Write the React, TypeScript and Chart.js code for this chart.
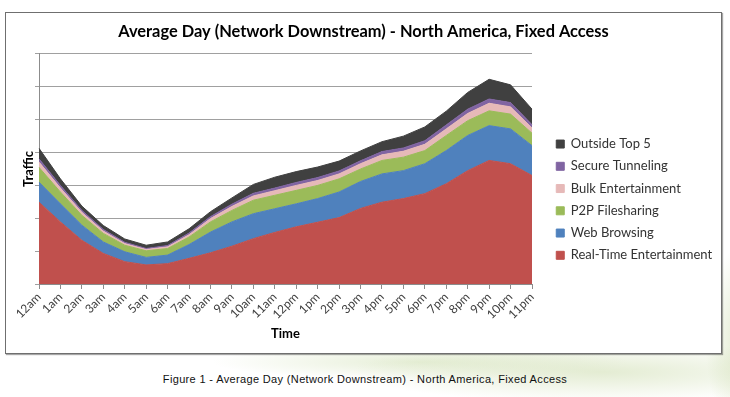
import React, { useEffect, useRef } from 'react';
import { Chart, registerables } from 'chart.js';

Chart.register(...registerables);

const HOURS = ['12am', '1am', '2am', '3am', '4am', '5am', '6am', '7am', '8am', '9am', '10am', '11am',
  '12pm', '1pm', '2pm', '3pm', '4pm', '5pm', '6pm', '7pm', '8pm', '9pm', '10pm', '11pm'];

const REAL_TIME = [2.49, 1.89, 1.33, 0.93, 0.68, 0.58, 0.62, 0.78, 0.95, 1.15, 1.38, 1.57, 1.74, 1.88, 2.02, 2.3, 2.49, 2.6, 2.75, 3.05, 3.45, 3.76, 3.66, 3.3];
const WEB = [0.61, 0.55, 0.46, 0.35, 0.3, 0.23, 0.26, 0.42, 0.63, 0.74, 0.76, 0.72, 0.7, 0.72, 0.78, 0.82, 0.86, 0.85, 0.91, 1.01, 1.07, 1.06, 1.06, 0.91];
const P2P = [0.45, 0.36, 0.3, 0.26, 0.2, 0.2, 0.2, 0.23, 0.31, 0.35, 0.41, 0.41, 0.41, 0.4, 0.4, 0.38, 0.41, 0.41, 0.4, 0.46, 0.45, 0.45, 0.45, 0.38];
const BULK = [0.16, 0.12, 0.09, 0.07, 0.05, 0.04, 0.05, 0.07, 0.1, 0.12, 0.13, 0.14, 0.15, 0.15, 0.15, 0.16, 0.17, 0.18, 0.19, 0.2, 0.22, 0.23, 0.22, 0.16];
const SECURE = [0.1, 0.08, 0.06, 0.05, 0.04, 0.03, 0.04, 0.05, 0.06, 0.07, 0.08, 0.08, 0.09, 0.09, 0.09, 0.09, 0.1, 0.1, 0.11, 0.12, 0.13, 0.13, 0.13, 0.1];
const OUTSIDE = [0.32, 0.2, 0.13, 0.12, 0.1, 0.1, 0.11, 0.13, 0.15, 0.19, 0.27, 0.33, 0.33, 0.32, 0.3, 0.3, 0.3, 0.36, 0.42, 0.42, 0.51, 0.6, 0.54, 0.47];

const SERIES_NAMES = ['Real-Time Entertainment', 'Web Browsing', 'P2P Filesharing', 'Bulk Entertainment', 'Secure Tunneling', 'Outside Top 5'];
const SERIES_VALUES = [REAL_TIME, WEB, P2P, BULK, SECURE, OUTSIDE];
const SERIES_COLORS = ['#C0504D', '#4F81BD', '#9BBB59', '#E6B9B8', '#8064A2', '#404040'];

const TITLE = 'Average Day (Network Downstream) - North America, Fixed Access';
const CAPTION = 'Figure 1 - Average Day (Network Downstream) - North America, Fixed Access';
const Y_TITLE = 'Traffic';
const X_TITLE = 'Time';

const CANVAS_W = 715;
const CANVAS_H = 340;
const PLOT_LEFT = 33;
const PLOT_RIGHT = 526;
const LEGEND_TOP = 115.3;
const LEGEND_LEFT = 541;

export default function App() {
  const ref = useRef<HTMLCanvasElement>(null);

  useEffect(() => {
    if (!ref.current) return;
    const legendPlace = {
      id: 'legendPlace',
      afterLayout(chart: any) {
        const lg = chart.legend;
        if (lg) {
          const w = lg.width;
          lg.top = LEGEND_TOP;
          lg.left = LEGEND_LEFT;
          lg.right = LEGEND_LEFT + w;
        }
      },
    };
    const chart = new Chart(ref.current, {
      type: 'line',
      data: {
        labels: HOURS,
        datasets: SERIES_NAMES.map((name, i) => ({
          label: name,
          data: SERIES_VALUES[i],
          backgroundColor: SERIES_COLORS[i],
          borderColor: SERIES_COLORS[i],
          borderWidth: 1,
          pointRadius: 0,
          tension: 0,
          fill: i === 0 ? 'origin' : '-1',
        })),
      },
      options: {
        animation: false,
        responsive: false,
        layout: { padding: { left: 0, right: 0, top: 0, bottom: 11 } },
        plugins: {
          title: {
            display: true,
            text: TITLE,
            color: '#000',
            font: { family: 'Lato', size: 16.4, weight: 'bold' },
            padding: { top: 9.2, bottom: 12.1 },
          },
          legend: {
            position: 'right',
            align: 'start',
            reverse: true,
            labels: {
              boxWidth: 8,
              boxHeight: 8,
              padding: 9.25,
              color: '#333',
              font: { family: 'Lato', size: 13 },
            },
          },
          tooltip: { enabled: false },
        },
        scales: {
          x: {
            type: 'category',
            offset: false,
            grid: { display: true, drawOnChartArea: false, drawTicks: true, tickLength: 5, color: '#8c8c8c' },
            border: { display: true, color: '#8c8c8c' },
            ticks: {
              autoSkip: false,
              maxRotation: 45,
              minRotation: 45,
              padding: 1,
              color: '#404040',
              font: { family: 'Lato', size: 12 },
            },
            title: {
              display: true,
              text: X_TITLE,
              color: '#000',
              font: { family: 'Lato', size: 13, weight: 'bold' },
              padding: { top: 0, bottom: 0 },
            },
            afterFit: (s: any) => {
              s.height = 58;
              s.paddingRight = CANVAS_W - PLOT_RIGHT;
            },
          },
          y: {
            stacked: true,
            min: 0,
            max: 7,
            ticks: { display: false, stepSize: 1 },
            grid: { color: '#a0a0a0', tickLength: 4, drawTicks: true },
            border: { display: true, color: '#8c8c8c' },
            title: {
              display: true,
              text: Y_TITLE,
              color: '#000',
              font: { family: 'Lato', size: 13, weight: 'bold' },
              padding: { top: 15.2, bottom: 0 },
            },
            afterFit: (s: any) => { s.width = PLOT_LEFT; },
          },
        },
      } as any,
      plugins: [legendPlace],
    });
    return () => chart.destroy();
  }, []);

  return (
    <div
      style={{
        position: 'absolute',
        left: 0,
        top: 0,
        width: 730,
        height: 397,
        overflow: 'hidden',
        background:
          'radial-gradient(ellipse 330px 40px at 600px 372px, rgba(200,217,166,0.5), rgba(255,255,255,0) 75%),' +
          'radial-gradient(ellipse 50px 120px at 745px 340px, rgba(196,214,160,0.55), rgba(255,255,255,0) 80%),' +
          'radial-gradient(ellipse 260px 22px at 420px 362px, rgba(205,222,175,0.5), rgba(255,255,255,0) 80%),' +
          '#ffffff',
      }}
    >
      <div
        style={{
          position: 'absolute',
          left: 5,
          top: 12,
          width: CANVAS_W,
          height: CANVAS_H,
          border: '1px solid #6f6f6f',
          background: '#fff',
          boxShadow: '1px 1px 1px rgba(0,0,0,0.35)',
        }}
      >
        <canvas ref={ref} width={CANVAS_W} height={CANVAS_H} style={{ display: 'block', width: CANVAS_W, height: CANVAS_H }} />
      </div>
      <div
        style={{
          position: 'absolute',
          left: 0,
          width: 730,
          top: 372,
          textAlign: 'center',
          fontFamily: '"Liberation Sans", Arial, sans-serif',
          fontSize: 11,
          letterSpacing: '0.35px',
          color: '#111',
          lineHeight: '14px',
        }}
      >
        {CAPTION}
      </div>
    </div>
  );
}
